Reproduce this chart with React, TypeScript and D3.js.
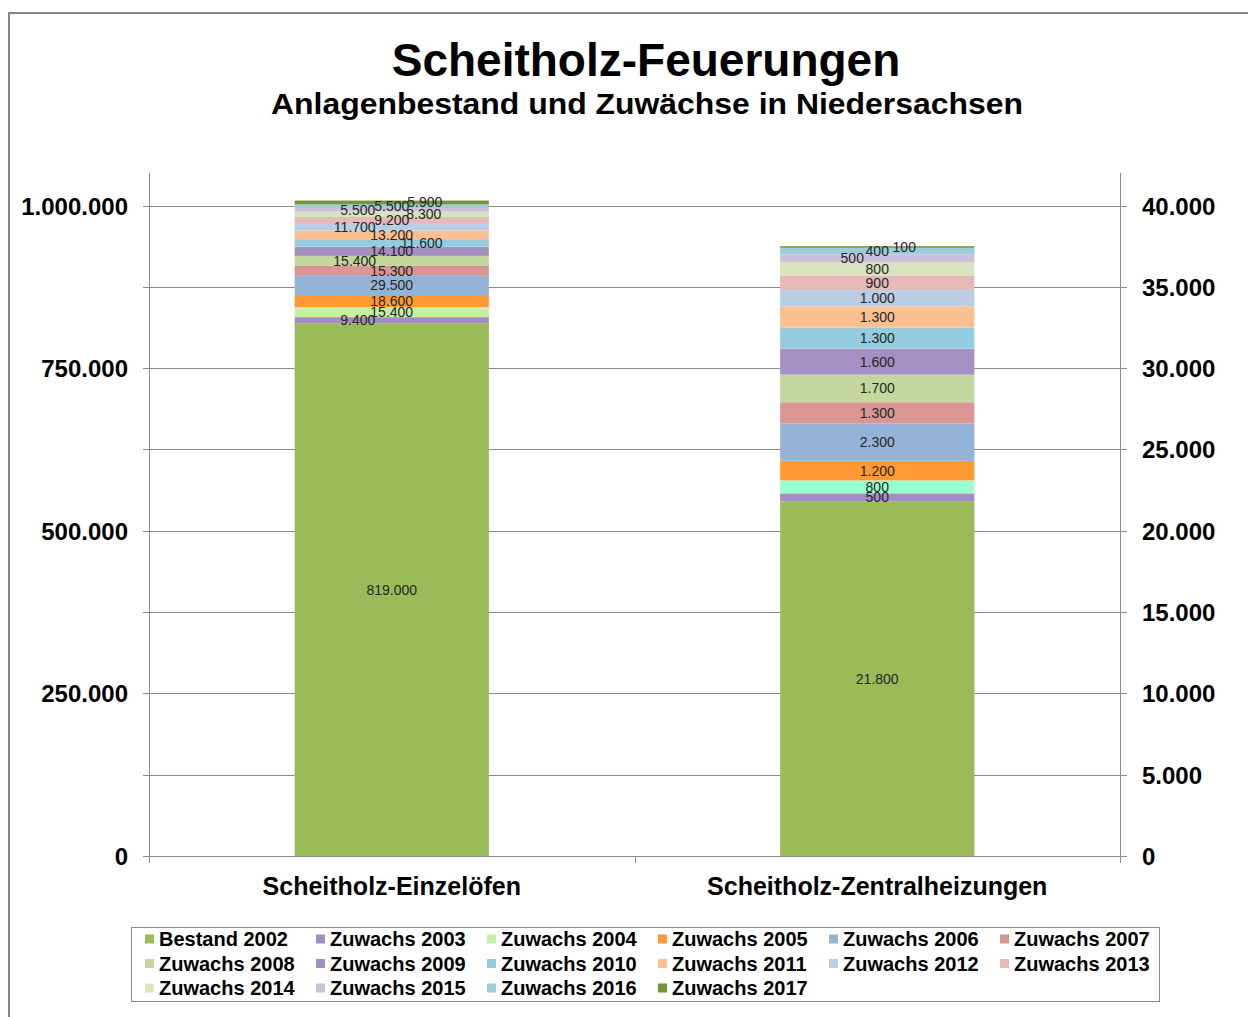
import React from "react";
import * as d3 from "d3";

const categories = ["Scheitholz-Einzelöfen", "Scheitholz-Zentralheizungen"];

const seriesNames = [
  "Bestand 2002", "Zuwachs 2003", "Zuwachs 2004", "Zuwachs 2005", "Zuwachs 2006", "Zuwachs 2007",
  "Zuwachs 2008", "Zuwachs 2009", "Zuwachs 2010", "Zuwachs 2011", "Zuwachs 2012", "Zuwachs 2013",
  "Zuwachs 2014", "Zuwachs 2015", "Zuwachs 2016", "Zuwachs 2017",
];

// Einzelöfen -> left axis, Zentralheizungen -> right axis
const einzeloefen = [819000, 9400, 15400, 18600, 29500, 15300, 15400, 14100, 11600, 13200, 11700, 9200, 8300, 5500, 5500, 5900];
const zentralheizungen = [21800, 500, 800, 1200, 2300, 1300, 1700, 1600, 1300, 1300, 1000, 900, 800, 500, 400, 100];

const leftTicks = [0, 250000, 500000, 750000, 1000000];
const rightTicks = [0, 5000, 10000, 15000, 20000, 25000, 30000, 35000, 40000];

const colors = [
  "#9BBB59", "#A28DC0", "#C4F0A6", "#FF9933", "#95B3D7", "#D99694",
  "#C3D69B", "#A490C1", "#93CDDD", "#FAC090", "#B9CDE5", "#E6B9B8",
  "#D7E4BD", "#CCC1DA", "#9FCCDB", "#77933C",
];
// the second bar has its own colour for 2004
const colorsRight = colors.map((c, i) => (i === 2 ? "#99FFCC" : c));

// manual horizontal shift of data labels (as moved in the original)
const labelDxLeft = [0, -34, 0, 0, 0, 0, -37, 0, 30, 0, -37, 0, 32, -34, 0, 33];
const labelDxRight = [0, 0, 0, 0, 0, 0, 0, 0, 0, 0, 0, 0, 0, -25, 0, 27];

const fmt = (v: number) => d3.format(",")(v).replace(/,/g, ".");

const W = 1248;
const H = 1017;
const FONT = "'Liberation Sans', Arial, sans-serif";

export default function App() {
  const plotLeft = 149;
  const plotRight = 1120;
  const plotTop = 173;
  const plotBottom = 856;

  const x = d3.scaleBand<string>().domain(categories).range([plotLeft, plotRight]).paddingInner(0.6).paddingOuter(0.3);
  const yL = d3.scaleLinear().domain([0, 1050000]).range([plotBottom, plotTop]);
  const yR = d3.scaleLinear().domain([0, 42000]).range([plotBottom, plotTop]);

  const bars = [
    { cat: categories[0], values: einzeloefen, y: yL, colors, dx: labelDxLeft },
    { cat: categories[1], values: zentralheizungen, y: yR, colors: colorsRight, dx: labelDxRight },
  ];

  const gridVals = d3.range(0, 1000001, 125000);
  const step = x.step();

  return (
    <svg width={W} height={H} style={{ position: "absolute", left: 0, top: 0, background: "#fff" }} fontFamily={FONT}>
      <rect x={0} y={0} width={W} height={H} fill="#fff" />
      <path d={`M${W + 5},13H9V${H + 5}`} fill="none" stroke="#868686" strokeWidth={2} />

      <text x={646} y={76} textAnchor="middle" fontSize={46} fontWeight="bold">Scheitholz-Feuerungen</text>
      <text x={647} y={114} textAnchor="middle" fontSize={29} fontWeight="bold" textLength={752} lengthAdjust="spacingAndGlyphs">
        Anlagenbestand und Zuwächse in Niedersachsen
      </text>

      {/* gridlines */}
      {gridVals.map((v) => (
        <line key={v} x1={plotLeft - 6} x2={plotRight + 7} y1={Math.round(yL(v)) + 0.5} y2={Math.round(yL(v)) + 0.5} stroke="#8c8c8c" strokeWidth={1} />
      ))}

      {/* axes */}
      <line x1={plotLeft + 0.5} x2={plotLeft + 0.5} y1={plotTop} y2={plotBottom} stroke="#8c8c8c" />
      <line x1={plotRight + 0.5} x2={plotRight + 0.5} y1={plotTop} y2={plotBottom} stroke="#8c8c8c" />
      {[plotLeft, plotLeft + step, plotRight].map((px, i) => (
        <line key={i} x1={Math.round(px) + 0.5} x2={Math.round(px) + 0.5} y1={plotBottom} y2={plotBottom + 7} stroke="#8c8c8c" />
      ))}

      {leftTicks.map((v) => (
        <text key={v} x={128} y={yL(v) + 9} textAnchor="end" fontSize={24} fontWeight="bold">{fmt(v)}</text>
      ))}
      {rightTicks.map((v) => (
        <text key={v} x={1142} y={yR(v) + 9} textAnchor="start" fontSize={24} fontWeight="bold">{fmt(v)}</text>
      ))}

      {/* stacked bars */}
      {bars.map((b) => {
        const ends = Array.from(d3.cumsum(b.values));
        const bx = x(b.cat) as number;
        const bw = x.bandwidth();
        return (
          <g key={b.cat}>
            {b.values.map((v, i) => {
              const y0 = b.y(ends[i] - v);
              const y1 = b.y(ends[i]);
              return <rect key={i} x={bx} y={y1} width={bw} height={y0 - y1} fill={b.colors[i]} />;
            })}
            {b.values.map((v, i) => {
              const mid = b.y(ends[i] - v / 2);
              return (
                <text key={"l" + i} x={bx + bw / 2 + b.dx[i]} y={mid + 5} textAnchor="middle" fontSize={14} fill="#262626">
                  {fmt(v)}
                </text>
              );
            })}
          </g>
        );
      })}

      {/* category labels */}
      {categories.map((c) => (
        <text key={c} x={(x(c) as number) + x.bandwidth() / 2} y={895} textAnchor="middle" fontSize={25} fontWeight="bold">{c}</text>
      ))}

      {/* legend */}
      <rect x={131.5} y={927.5} width={1028} height={74} fill="#fff" stroke="#8c8c8c" />
      {seriesNames.map((s, i) => {
        const col = i % 6;
        const row = Math.floor(i / 6);
        const lx = 145 + col * 171;
        const ly = 939 + row * 24.5;
        return (
          <g key={s}>
            <rect x={lx} y={ly - 4.5} width={9} height={9} fill={colors[i]} />
            <text x={lx + 14} y={ly + 7} fontSize={20} fontWeight="bold">{s}</text>
          </g>
        );
      })}
    </svg>
  );
}
